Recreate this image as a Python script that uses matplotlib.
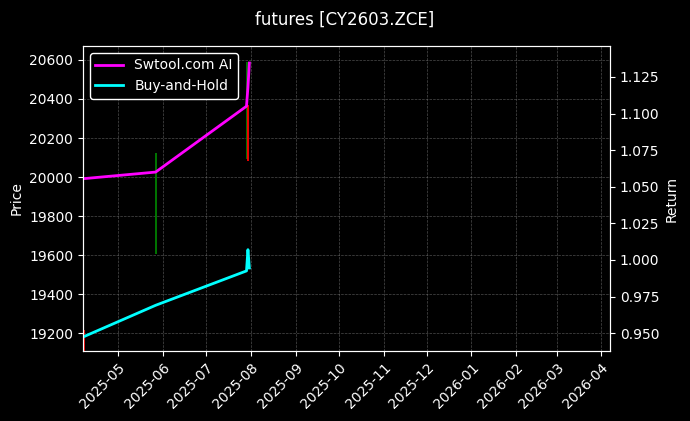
import matplotlib
matplotlib.use('Agg')
import matplotlib.pyplot as plt
import matplotlib.dates as mdates
import numpy as np
import pandas as pd

plt.style.use('dark_background')

# candles (daily high/low and direction)
candle_dates = pd.to_datetime(['2025-04-07', '2025-05-27', '2025-07-29', '2025-07-30'])
candle_high = [19215, 20125, 20590, 20370]
candle_low = [19050, 19605, 20090, 20080]
candle_up = [False, True, True, False]

# equity curves
ret_dates = pd.to_datetime(['2025-04-07', '2025-05-27', '2025-07-29', '2025-07-30', '2025-07-31'])
strategy_ret = [1.0555, 1.0600, 1.1050, 1.1180, 1.1345]
buyhold_ret = [0.9475, 0.9690, 0.9925, 1.0070, 0.9945]

xlim = pd.to_datetime(['2025-04-06 12:00', '2026-04-07 00:00'])

fig, ax = plt.subplots(figsize=(6.9, 4.21), dpi=100)
fig.subplots_adjust(left=0.12, right=0.884, top=0.891, bottom=0.166)
fig.patch.set_facecolor('black')
ax.set_facecolor('black')

for d, hi, lo, up in zip(candle_dates, candle_high, candle_low, candle_up):
    ax.vlines(d, lo, hi, color='green' if up else 'red', linewidth=1.3)

ax.set_ylim(19108, 20672)
ax.set_xlim(xlim[0], xlim[1])
ax.set_ylabel('Price')
ax.grid(True, color='gray', linestyle='--', linewidth=0.5, alpha=0.6)

ax2 = ax.twinx()
ax2.plot(ret_dates, strategy_ret, color='magenta', linewidth=2, label='Swtool.com AI')
ax2.plot(ret_dates, buyhold_ret, color='cyan', linewidth=2, label='Buy-and-Hold')
ax2.set_ylim(0.9377, 1.1462)
ax2.set_ylabel('Return')
ax2.legend(loc='upper left', facecolor='black', edgecolor='white', framealpha=1)

ax.xaxis.set_major_locator(mdates.MonthLocator())
ax.xaxis.set_major_formatter(mdates.DateFormatter('%Y-%m'))
plt.setp(ax.get_xticklabels(), rotation=45, ha='right', rotation_mode='anchor')

for a in (ax, ax2):
    for s in a.spines.values():
        s.set_color('white')

fig.suptitle('futures [CY2603.ZCE]', y=0.975)
fig.savefig('out.png', dpi=100, facecolor='black')
